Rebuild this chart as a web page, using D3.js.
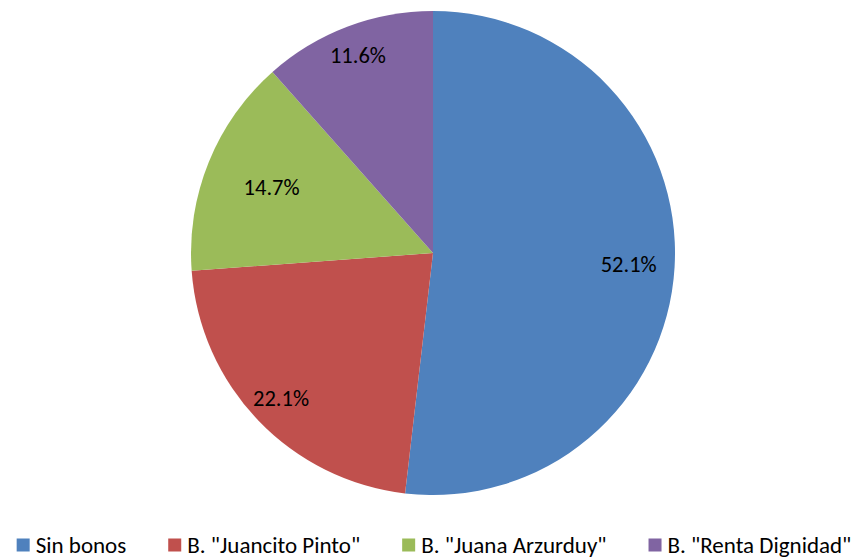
<!DOCTYPE html>
<html>
<head>
<meta charset="utf-8">
<script src="https://cdn.jsdelivr.net/npm/d3@7"></script>
<style>
  body { margin: 0; background: #ffffff; }
  svg text { font-family: Carlito, Calibri, Lato, sans-serif; fill: #000; }
</style>
</head>
<body>
<div id="chart"></div>
<script>
// data
var categories = ['Sin bonos', 'B. "Juancito Pinto"', 'B. "Juana Arzurduy"', 'B. "Renta Dignidad"'];
var values     = [52.1, 22.1, 14.7, 11.6];
var colors     = ['#4F81BD', '#C0504D', '#9BBB59', '#8064A2'];
// how far out each label sits (fraction of radius), excel "best fit" look
var labelR     = [0.81, 0.87, 0.72, 0.875];

var width  = 864;
var height = 558;
var cx = 433, cy = 253, radius = 242;

var svg = d3.select("#chart").append("svg")
    .attr("width", width)
    .attr("height", height);

var g = svg.append("g")
    .attr("transform", "translate(" + cx + "," + cy + ")");

var pie = d3.pie()
    .sort(null)
    .value(function (d) { return d; });

var arc = d3.arc()
    .innerRadius(0)
    .outerRadius(radius);

var arcs = pie(values);

g.selectAll("path.slice")
    .data(arcs)
    .enter().append("path")
    .attr("class", "slice")
    .attr("d", arc)
    .attr("fill", function (d, i) { return colors[i]; });

// percentage labels
g.selectAll("text.lbl")
    .data(arcs)
    .enter().append("text")
    .attr("class", "lbl")
    .attr("x", function (d, i) {
        var a = (d.startAngle + d.endAngle) / 2;
        return Math.sin(a) * radius * labelR[i];
    })
    .attr("y", function (d, i) {
        var a = (d.startAngle + d.endAngle) / 2;
        return -Math.cos(a) * radius * labelR[i];
    })
    .attr("text-anchor", "middle")
    .attr("dominant-baseline", "central")
    .style("font-size", "22.5px")
    .text(function (d) { return d.data.toFixed(1) + "%"; });

// legend along the bottom, laid out from measured text widths
var legend = svg.append("g").attr("class", "legend");
var sw = 13, gapIn = 6, gapOut = 42;

var items = legend.selectAll("g.item")
    .data(categories)
    .enter().append("g")
    .attr("class", "item");

items.append("rect")
    .attr("width", sw)
    .attr("height", sw)
    .attr("y", -sw / 2)
    .attr("fill", function (d, i) { return colors[i]; });

items.append("text")
    .attr("x", sw + gapIn)
    .attr("y", 0)
    .attr("dominant-baseline", "central")
    .style("font-size", "23px")
    .text(function (d) { return d; });

var xs = [], x = 0;
items.each(function () {
    var w = d3.select(this).select("text").node().getComputedTextLength();
    xs.push(x);
    x += sw + gapIn + w + gapOut;
});
var total = x - gapOut;
var x0 = 434 - total / 2;

items.attr("transform", function (d, i) {
    return "translate(" + (x0 + xs[i]) + ",545)";
});
</script>
</body>
</html>
